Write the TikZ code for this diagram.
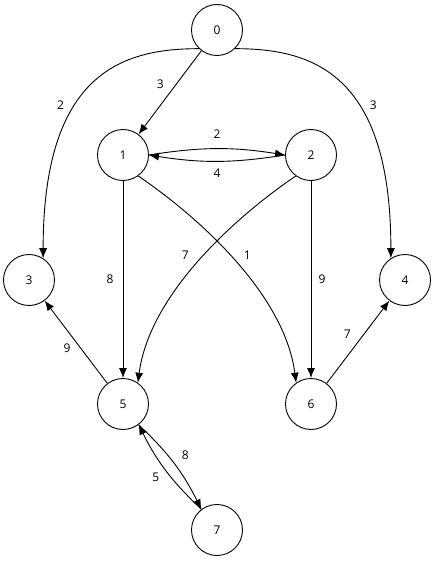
\documentclass[tikz,border=0pt]{standalone}
\usepackage{fontspec}
\setmainfont{Open Sans}
\usetikzlibrary{arrows.meta}

\begin{document}
\begin{tikzpicture}[x=1pt, y=1pt,
  vertex/.style={draw, circle, minimum size=51pt, inner sep=0pt, line width=0.9pt, font=\fontsize{12}{14}\selectfont},
  arc/.style={-{Latex[length=10pt,width=8pt]}, line width=0.9pt},
  wt/.style={font=\fontsize{12}{14}\selectfont, inner sep=0pt}]
\useasboundingbox (0,0) rectangle (445,-567);

% Vertices
\node[vertex] (n0) at (217,-30) {0};
\node[vertex] (n1) at (123,-155) {1};
\node[vertex] (n2) at (311,-155) {2};
\node[vertex] (n3) at (29,-280) {3};
\node[vertex] (n4) at (405,-280) {4};
\node[vertex] (n5) at (123,-404) {5};
\node[vertex] (n6) at (311,-404) {6};
\node[vertex] (n7) at (217,-530) {7};

% Edges leaving 0
\draw[arc] (n0) -- node[wt, pos=0.4, xshift=-16pt] {3} (n1);
\draw[arc] (n0.226) .. controls +(-76,0) and +(0,186) .. node[wt, pos=0.6, xshift=-15.5pt, yshift=-1.4pt] {2} (n3.57);
\draw[arc] (n0.314) .. controls +(76,0) and +(0,186) .. node[wt, pos=0.6, xshift=15.5pt, yshift=-1.4pt] {3} (n4.123);

% Between 1 and 2
\draw[arc] (n1.east) to[bend left=9] node[wt, midway, yshift=15pt] {2} (n2.west);
\draw[arc] (n2.west) to[bend left=9] node[wt, midway, yshift=-12pt] {4} (n1.east);

% Down to 5 and 6
\draw[arc] (n1) -- node[wt, pos=0.5, xshift=-13pt] {8} (n5);
\draw[arc] (n2) -- node[wt, pos=0.5, xshift=11pt] {9} (n6);
\draw[arc] (n2.234) .. controls +(-56,-38) and +(12,91) .. node[wt, pos=0.5, xshift=-15pt, yshift=4pt] {7} (n5.55);
\draw[arc] (n1.-54) .. controls +(56,-38) and +(-12,91) .. node[wt, pos=0.5, xshift=13.5pt, yshift=4pt] {1} (n6.125);

% Back up to 3 and 4
\draw[arc] (n5) -- node[wt, pos=0.42, xshift=-14pt] {9} (n3);
\draw[arc] (n6) -- node[wt, pos=0.6, xshift=-17pt] {7} (n4);

% Between 5 and 7
\draw[arc] (n5.-53) to[bend left=10] node[wt, midway, xshift=11pt, yshift=9pt] {8} (n7.127);
\draw[arc] (n7.127) to[bend left=10] node[wt, midway, xshift=-10pt, yshift=-7pt] {5} (n5.-53);

\end{tikzpicture}
\end{document}
